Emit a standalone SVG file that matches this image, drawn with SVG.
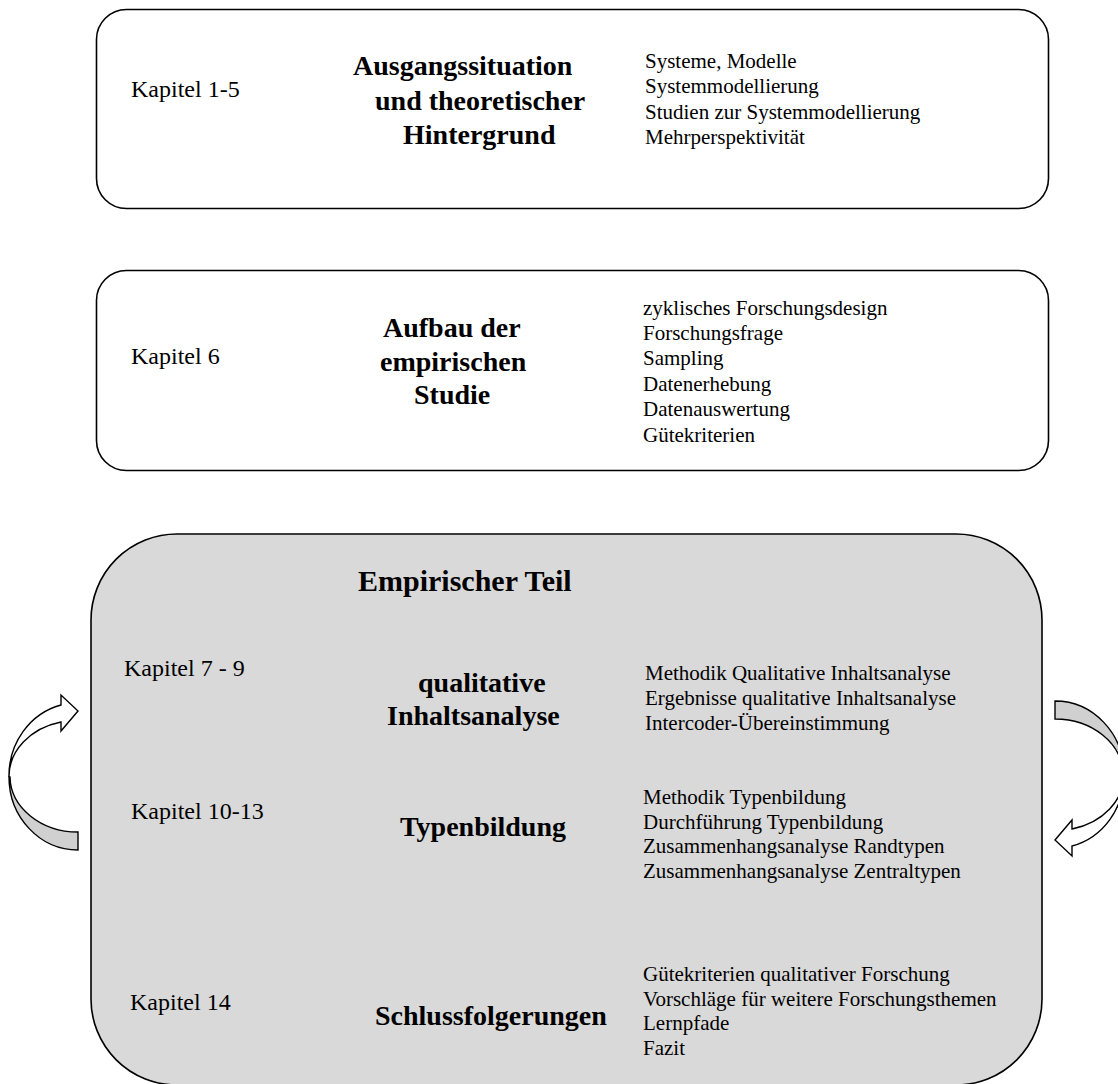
<svg xmlns="http://www.w3.org/2000/svg" width="1118" height="1084" viewBox="0 0 1118 1084">
  <style>
    .box { fill: #ffffff; stroke: #000000; stroke-width: 1.6; }
    .part { fill: #d9d9d9; stroke: #000000; stroke-width: 1.6; }
    .kap { font-family: "Liberation Serif", "Times New Roman", serif; font-size: 24px; fill: #000; }
    .title { font-family: "Liberation Serif", "Times New Roman", serif; font-size: 28px; font-weight: bold; fill: #000; }
    .head { font-size: 30px; }
    .item { font-family: "Liberation Serif", "Times New Roman", serif; font-size: 21px; fill: #000; }
    .front { fill: #ffffff; stroke: #000000; stroke-width: 1.4; stroke-linejoin: miter; }
    .back { fill: #d0d0d0; stroke: #000000; stroke-width: 1.4; }
  </style>
  <defs>
    <!-- curved arrow: shaded back band from the tail, white front band up to the head -->
    <g id="curvedArrow">
      <path class="back" d="M 9,777 A 69 73 0 0 0 78,850 L 78,832 A 68 56 0 0 1 10,777 Z"/>
      <path class="front" d="M 61,705 A 69 73 0 0 0 9,777 A 68 56 0 0 1 61,722 L 61,731 L 78,711 L 61,695 Z"/>
    </g>
  </defs>

  <!-- part 1 -->
  <g id="node-grundlagen">
    <rect class="box" x="96.5" y="9.5" width="952" height="199" rx="30" ry="30"/>
    <text class="kap" x="131" y="97">Kapitel 1-5</text>
    <text class="title" x="353" y="75">Ausgangssituation</text>
    <text class="title" x="375" y="110">und theoretischer</text>
    <text class="title" x="403" y="144">Hintergrund</text>
    <text class="item" x="645" y="68">Systeme, Modelle</text>
    <text class="item" x="645" y="93">Systemmodellierung</text>
    <text class="item" x="645" y="119">Studien zur Systemmodellierung</text>
    <text class="item" x="645" y="144">Mehrperspektivität</text>
  </g>

  <!-- part 2 -->
  <g id="node-aufbau">
    <rect class="box" x="96.5" y="270.5" width="952" height="200" rx="30" ry="30"/>
    <text class="kap" x="131" y="364">Kapitel 6</text>
    <text class="title" x="383" y="337">Aufbau der</text>
    <text class="title" x="380" y="371">empirischen</text>
    <text class="title" x="414" y="404">Studie</text>
    <text class="item" x="643" y="315">zyklisches Forschungsdesign</text>
    <text class="item" x="643" y="340">Forschungsfrage</text>
    <text class="item" x="643" y="365">Sampling</text>
    <text class="item" x="643" y="391">Datenerhebung</text>
    <text class="item" x="643" y="416">Datenauswertung</text>
    <text class="item" x="643" y="442">Gütekriterien</text>
  </g>

  <!-- part 3: empirical section -->
  <g id="node-empirie">
    <rect class="part" x="91" y="534" width="951" height="551" rx="86" ry="86"/>
    <text class="title head" x="358" y="591">Empirischer Teil</text>

    <text class="kap" x="124" y="676">Kapitel 7 - 9</text>
    <text class="title" x="418" y="692">qualitative</text>
    <text class="title" x="387" y="725">Inhaltsanalyse</text>
    <text class="item" x="645" y="680">Methodik Qualitative Inhaltsanalyse</text>
    <text class="item" x="645" y="705">Ergebnisse qualitative Inhaltsanalyse</text>
    <text class="item" x="645" y="730">Intercoder-Übereinstimmung</text>

    <text class="kap" x="131" y="819">Kapitel 10-13</text>
    <text class="title" x="400" y="836">Typenbildung</text>
    <text class="item" x="643" y="804">Methodik Typenbildung</text>
    <text class="item" x="643" y="829">Durchführung Typenbildung</text>
    <text class="item" x="643" y="853">Zusammenhangsanalyse Randtypen</text>
    <text class="item" x="643" y="878">Zusammenhangsanalyse Zentraltypen</text>

    <text class="kap" x="130" y="1010">Kapitel 14</text>
    <text class="title" x="375" y="1025">Schlussfolgerungen</text>
    <text class="item" x="643" y="981">Gütekriterien qualitativer Forschung</text>
    <text class="item" x="643" y="1006">Vorschläge für weitere Forschungsthemen</text>
    <text class="item" x="643" y="1030">Lernpfade</text>
    <text class="item" x="643" y="1055">Fazit</text>
  </g>

  <!-- iteration arrows -->
  <g id="connectors">
    <use href="#curvedArrow"/>
    <use href="#curvedArrow" transform="rotate(180 566.5 775.5)"/>
  </g>
</svg>
